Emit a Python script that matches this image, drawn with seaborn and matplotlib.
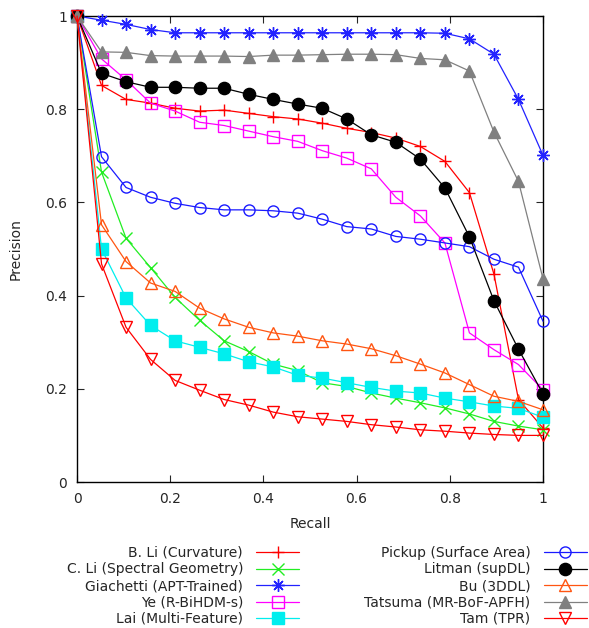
import matplotlib
matplotlib.use("Agg")
import matplotlib.pyplot as plt
import seaborn as sns
import numpy as np
import pandas as pd
from matplotlib.ticker import FuncFormatter, MultipleLocator

recall = [i / 19 for i in range(20)]

b_li = [1.0, 0.851, 0.821, 0.813, 0.802, 0.796, 0.798, 0.791, 0.784, 0.779,
        0.770, 0.759, 0.750, 0.738, 0.720, 0.688, 0.621, 0.446, 0.177, 0.116]
c_li = [1.0, 0.665, 0.523, 0.460, 0.396, 0.347, 0.303, 0.280, 0.253, 0.239,
        0.213, 0.205, 0.191, 0.180, 0.170, 0.159, 0.146, 0.130, 0.120, 0.112]
giachetti = [1.0, 0.991, 0.982, 0.971, 0.964, 0.964, 0.964, 0.964, 0.964, 0.964,
             0.964, 0.964, 0.964, 0.964, 0.964, 0.963, 0.951, 0.918, 0.821, 0.701]
ye = [1.0, 0.908, 0.863, 0.813, 0.796, 0.772, 0.765, 0.753, 0.741, 0.731,
      0.711, 0.695, 0.672, 0.611, 0.571, 0.513, 0.320, 0.284, 0.252, 0.198]
lai = [1.0, 0.500, 0.395, 0.336, 0.303, 0.289, 0.275, 0.258, 0.247, 0.229,
       0.223, 0.213, 0.203, 0.195, 0.191, 0.180, 0.172, 0.163, 0.158, 0.139]
pickup = [1.0, 0.698, 0.632, 0.611, 0.598, 0.589, 0.584, 0.584, 0.582, 0.577,
          0.564, 0.548, 0.543, 0.527, 0.521, 0.513, 0.505, 0.478, 0.461, 0.345]
litman = [1.0, 0.877, 0.859, 0.847, 0.847, 0.845, 0.845, 0.832, 0.821, 0.811,
          0.802, 0.779, 0.745, 0.729, 0.693, 0.631, 0.526, 0.389, 0.285, 0.189]
bu = [1.0, 0.552, 0.473, 0.427, 0.409, 0.373, 0.350, 0.332, 0.320, 0.313,
      0.303, 0.296, 0.286, 0.271, 0.253, 0.234, 0.209, 0.184, 0.173, 0.155]
tatsuma = [1.0, 0.923, 0.922, 0.915, 0.914, 0.914, 0.914, 0.913, 0.916, 0.916,
           0.917, 0.918, 0.918, 0.917, 0.909, 0.906, 0.882, 0.751, 0.645, 0.436]
tam = [1.0, 0.468, 0.332, 0.263, 0.218, 0.197, 0.177, 0.165, 0.150, 0.140,
       0.135, 0.130, 0.123, 0.118, 0.112, 0.109, 0.105, 0.102, 0.100, 0.100]

names = ["B. Li (Curvature)", "C. Li (Spectral Geometry)", "Giachetti (APT-Trained)",
         "Ye (R-BiHDM-s)", "Lai (Multi-Feature)", "Pickup (Surface Area)",
         "Litman (supDL)", "Bu (3DDL)", "Tatsuma (MR-BoF-APFH)", "Tam (TPR)"]
series = [b_li, c_li, giachetti, ye, lai, pickup, litman, bu, tatsuma, tam]

styles = [
    dict(color="#ff0000", marker="+", ms=9, fillstyle="full"),
    dict(color="#22ee22", marker="x", ms=8, fillstyle="full"),
    dict(color="#2222ff", marker=(8, 2, 0), ms=9, fillstyle="full"),
    dict(color="#ff00ff", marker="s", ms=8, fillstyle="none"),
    dict(color="#00eeee", marker="s", ms=8, fillstyle="full"),
    dict(color="#1a1aff", marker="o", ms=8, fillstyle="none"),
    dict(color="#000000", marker="o", ms=8.8, fillstyle="full"),
    dict(color="#ff5511", marker="^", ms=8, fillstyle="none"),
    dict(color="#808080", marker="^", ms=8, fillstyle="full"),
    dict(color="#ff0000", marker="v", ms=8, fillstyle="none"),
]

sns.set_style("ticks")
plt.rcParams["font.family"] = ["DejaVu Sans"]

fig = plt.figure(figsize=(5.89, 6.28), dpi=100)
ax = fig.add_axes([77 / 589, 1 - 482 / 628, (543 - 77) / 589, (482 - 16) / 628])

for name, vals, st in zip(names, series, styles):
    df = pd.DataFrame({"Recall": recall, "Precision": vals})
    sns.lineplot(data=df, x="Recall", y="Precision", ax=ax, label=name,
                 color=st["color"], marker=st["marker"], markersize=st["ms"],
                 markeredgewidth=1.0, fillstyle=st["fillstyle"],
                 markeredgecolor=st["color"], linewidth=0.9, clip_on=False,
                 zorder=3)

ax.set_xlim(0, 1)
ax.set_ylim(0, 1)
ax.xaxis.set_major_locator(MultipleLocator(0.2))
ax.yaxis.set_major_locator(MultipleLocator(0.2))
fmt = FuncFormatter(lambda v, p: "%g" % round(v, 2))
ax.xaxis.set_major_formatter(fmt)
ax.yaxis.set_major_formatter(fmt)
ax.tick_params(direction="in", top=True, right=True, length=5, width=0.8,
               labelsize=10, pad=7)
for s in ax.spines.values():
    s.set_linewidth(1.0)
    s.set_color("black")
ax.set_xlabel("Recall", fontsize=10, labelpad=8)
ax.set_ylabel("Precision", fontsize=10, labelpad=16)

handles, labels = ax.get_legend_handles_labels()
if ax.legend_:
    ax.legend_.remove()
leg = fig.legend(handles, labels, ncol=2, markerfirst=False, frameon=False,
                 loc="upper right", bbox_to_anchor=(587 / 589, 1 - 546 / 628),
                 fontsize=10, handlelength=3.12, handletextpad=0.94,
                 columnspacing=4.68, labelspacing=0.18, borderpad=0,
                 borderaxespad=0)

fig.savefig("out.png", dpi=100)
